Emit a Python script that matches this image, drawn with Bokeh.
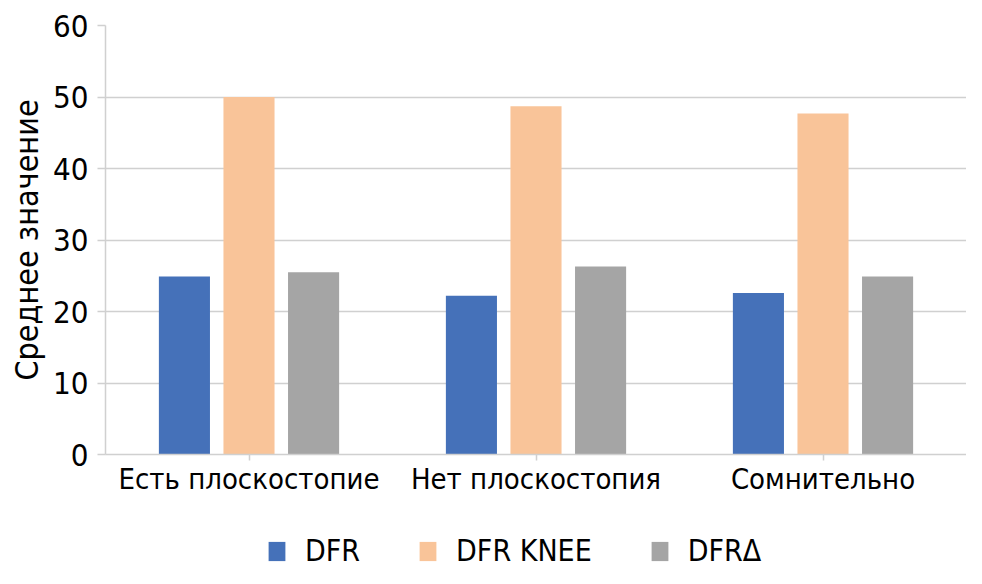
from bokeh.plotting import figure
from bokeh.layouts import column
from bokeh.models import ColumnDataSource, FactorRange, Range1d, Legend, LegendItem, SingleIntervalTicker
from bokeh.transform import dodge
from bokeh.embed import file_html
from bokeh.resources import INLINE

categories = ["Есть плоскостопие", "Нет плоскостопия", "Сомнительно"]
series_names = ["DFR", "DFR KNEE", "DFRΔ"]
dfr = [24.9, 22.2, 22.6]
dfr_knee = [50.0, 48.7, 47.7]
dfr_delta = [25.5, 26.3, 24.9]
y_ticks_interval = 10

colors = ["#4571B9", "#F9C499", "#A5A5A5"]
FONT = "'DejaVu Sans Condensed'"

source = ColumnDataSource(data=dict(cat=categories, dfr=dfr, knee=dfr_knee, delta=dfr_delta))

p = figure(width=966, height=498, x_range=FactorRange(*categories), y_range=Range1d(0, 60),
           output_backend="svg", toolbar_location=None)
p.min_border_top = 25
p.min_border_left = 105
p.min_border_right = 0
p.min_border_bottom = 44
p.outline_line_color = None
p.background_fill_color = "white"
p.border_fill_color = "white"

offset = 0.225
bw = 0.178
p.vbar(x=dodge("cat", -offset, range=p.x_range), top="dfr", width=bw, source=source,
       fill_color=colors[0], line_color=None)
p.vbar(x=dodge("cat", 0.0, range=p.x_range), top="knee", width=bw, source=source,
       fill_color=colors[1], line_color=None)
p.vbar(x=dodge("cat", offset, range=p.x_range), top="delta", width=bw, source=source,
       fill_color=colors[2], line_color=None)

grid_color = "#D0D0D0"
p.xgrid.grid_line_color = None
p.ygrid.grid_line_color = grid_color
p.ygrid.grid_line_width = 1.5
p.yaxis.ticker = SingleIntervalTicker(interval=y_ticks_interval)
p.yaxis.minor_tick_line_color = None
p.yaxis.major_tick_in = 0
p.yaxis.major_tick_out = 8
p.yaxis.major_tick_line_color = grid_color
p.yaxis.major_tick_line_width = 1.5
p.yaxis.axis_line_color = grid_color
p.yaxis.axis_line_width = 1.5
p.yaxis.major_label_text_font = FONT
p.yaxis.major_label_text_font_size = "31px"
p.yaxis.major_label_text_color = "black"
p.yaxis.major_label_standoff = 9
p.yaxis.axis_label = "Среднее значение"
p.yaxis.axis_label_text_font = FONT
p.yaxis.axis_label_text_font_size = "32px"
p.yaxis.axis_label_text_font_style = "normal"
p.yaxis.axis_label_text_color = "black"
p.yaxis.axis_label_standoff = 4

p.xaxis.major_tick_in = 0
p.xaxis.major_tick_out = 6
p.xaxis.major_tick_line_color = grid_color
p.xaxis.major_tick_line_width = 1.5
p.xaxis.axis_line_color = grid_color
p.xaxis.axis_line_width = 1.5
p.xaxis.major_label_text_font = FONT
p.xaxis.major_label_text_font_size = "29px"
p.xaxis.major_label_text_color = "black"
p.xaxis.major_label_standoff = 1

# legend strip (swatch renderers sit outside the visible range)
pl = figure(width=966, height=70, x_range=Range1d(0, 1), y_range=Range1d(0, 1),
            x_axis_type=None, y_axis_type=None, output_backend="svg", toolbar_location=None)
pl.min_border = 0
pl.outline_line_color = None
pl.xgrid.grid_line_color = None
pl.ygrid.grid_line_color = None
swatch = ColumnDataSource(data=dict(x=[-5.0], top=[-5.0]))
l1 = pl.vbar(x="x", top="top", width=0.1, source=swatch, fill_color=colors[0], line_color=None)
l2 = pl.vbar(x="x", top="top", width=0.1, source=swatch, fill_color=colors[1], line_color=None)
l3 = pl.vbar(x="x", top="top", width=0.1, source=swatch, fill_color=colors[2], line_color=None)

legend = Legend(items=[LegendItem(label=series_names[0], renderers=[l1]),
                       LegendItem(label=series_names[1], renderers=[l2]),
                       LegendItem(label=series_names[2], renderers=[l3])],
                orientation="horizontal", location=(161, 0))
legend.label_text_font = FONT
legend.label_text_font_size = "30px"
legend.label_text_color = "black"
legend.glyph_width = 21
legend.glyph_height = 24
legend.label_standoff = 18
legend.spacing = 57
legend.padding = 0
legend.margin = 0
legend.border_line_color = None
legend.background_fill_alpha = 0
pl.add_layout(legend, "center")

layout = column(p, pl, spacing=0)
open("out.html", "w").write(file_html(layout, INLINE))
